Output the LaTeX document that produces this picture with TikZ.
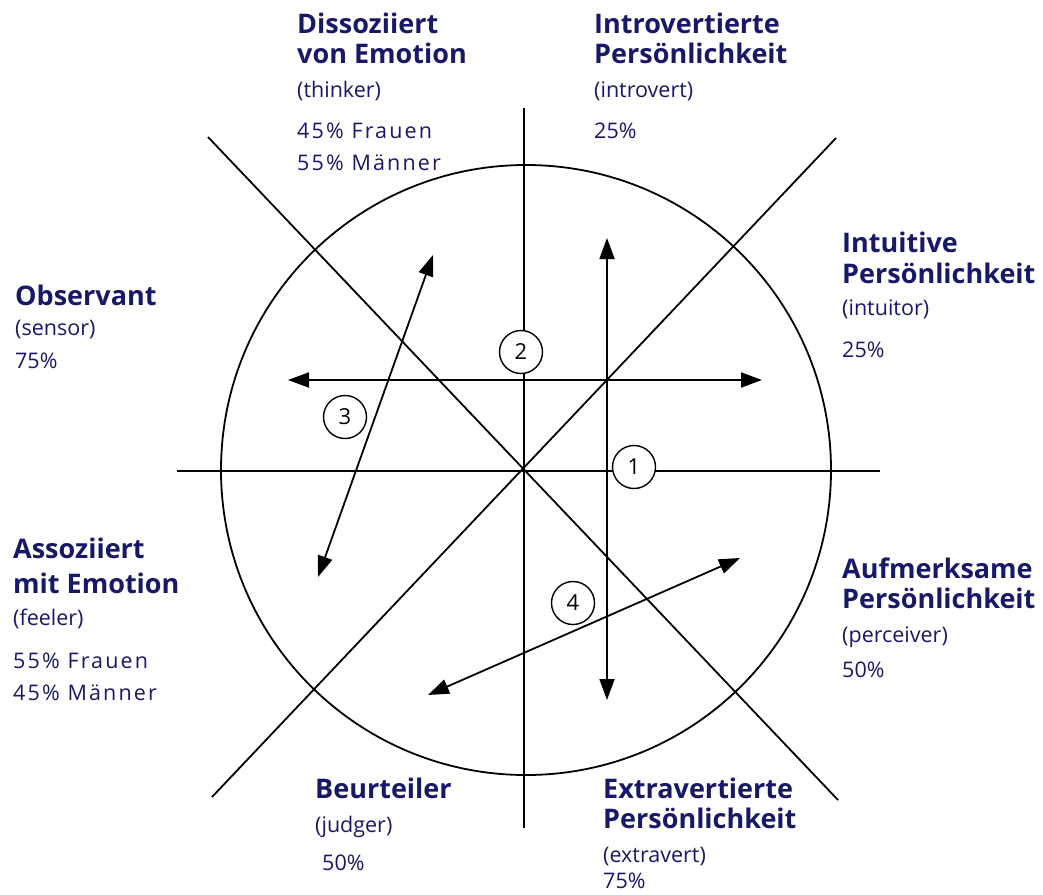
\documentclass[tikz,border=0pt]{standalone}
\usepackage{fontspec}
\setmainfont{Open Sans}
\usetikzlibrary{arrows.meta}
\definecolor{navy}{RGB}{24,24,104}
\tikzset{
  ln/.style={line width=1.8pt, black},
  dbl/.style={ln, {Triangle[length=21pt,width=15pt]}-{Triangle[length=21pt,width=15pt]}},
  numc/.style={circle, draw, line width=1.4pt, fill=white, minimum size=43pt, inner sep=0pt, font=\fontsize{22}{22}\selectfont},
  ttl/.style={anchor=base west, inner sep=0pt, text=navy, font=\bfseries\fontsize{27}{27}\selectfont},
  txt/.style={anchor=base west, inner sep=0pt, text=navy, font=\fontsize{21.5}{21.5}\selectfont},
  wide/.style={txt, font=\fontsize{21.5}{21.5}\selectfont\addfontfeatures{LetterSpace=10}},
}
\begin{document}
\begin{tikzpicture}[x=1pt,y=-1pt]
\useasboundingbox (0,0) rectangle (1043,894);
% main axes
\coordinate (c) at (524,471);
\coordinate (vT) at (524,108);
\coordinate (vB) at (524,828);
\coordinate (hL) at (177,471);
\coordinate (hR) at (880,471);
\coordinate (d1a) at (208,137);
\coordinate (d1b) at (838,800);
\coordinate (d2a) at (836,138);
\coordinate (d2b) at (212,797);
\draw[ln] (526,470) circle (305);
\draw[ln] (vT) -- (vB);
\draw[ln] (hL) -- (hR);
\draw[ln] (d1a) -- (d1b);
\draw[ln] (d2a) -- (d2b);
% secondary axes
\coordinate (sT) at (607,238);
\coordinate (sB) at (607,700);
\coordinate (sL) at (288,380);
\coordinate (sR) at (762,380);
\draw[dbl] (sB) -- (sT);
\draw[dbl] (sL) -- (sR);
% diagonal arrows
\coordinate (a3a) at (433,255);
\coordinate (a3b) at (318,577);
\coordinate (a4a) at (740,558);
\coordinate (a4b) at (428,695);
\draw[dbl] (a3a) -- (a3b);
\draw[dbl] (a4a) -- (a4b);
% numbers
\node[numc] (n1) at (634,467) {1};
\node[numc] (n2) at (521,352) {2};
\node[numc] (n3) at (345,417) {3};
\node[numc] (n4) at (573,603) {4};
% labels: top left
\node[ttl] (t1a) at (297,33) {Dissoziiert};
\node[ttl] (t1b) at (297,63) {von Emotion};
\node[txt] (t1c) at (297,97) {(thinker)};
\node[wide] (t1d) at (297,138) {45\% Frauen};
\node[wide] (t1e) at (297,170) {55\% Männer};
% top right
\node[ttl] (t2a) at (594,33) {Introvertierte};
\node[ttl] (t2b) at (594,63) {Persönlichkeit};
\node[txt] (t2c) at (594,97) {(introvert)};
\node[txt] (t2d) at (594,138) {25\%};
% right upper
\node[ttl] (t3a) at (842,252) {Intuitive};
\node[ttl] (t3b) at (842,283) {Persönlichkeit};
\node[txt] (t3c) at (842,315) {(intuitor)};
\node[txt] (t3d) at (842,357) {25\%};
% left upper
\node[ttl] (t4a) at (15,305) {Observant};
\node[txt] (t4b) at (15,335) {(sensor)};
\node[txt] (t4c) at (15,368) {75\%};
% left lower
\node[ttl] (t5a) at (13,558) {Assoziiert};
\node[ttl] (t5b) at (13,593) {mit Emotion};
\node[txt] (t5c) at (13,625) {(feeler)};
\node[wide] (t5d) at (13,668) {55\% Frauen};
\node[wide] (t5e) at (13,700) {45\% Männer};
% right lower
\node[ttl] (t6a) at (842,578) {Aufmerksame};
\node[ttl] (t6b) at (842,608) {Persönlichkeit};
\node[txt] (t6c) at (842,642) {(perceiver)};
\node[txt] (t6d) at (842,677) {50\%};
% bottom left
\node[ttl] (t7a) at (315,798) {Beurteiler};
\node[txt] (t7b) at (315,832) {(judger)};
\node[txt] (t7c) at (322,870) {50\%};
% bottom right
\node[ttl] (t8a) at (603,798) {Extravertierte};
\node[ttl] (t8b) at (603,828) {Persönlichkeit};
\node[txt] (t8c) at (603,862) {(extravert)};
\node[txt] (t8d) at (603,888) {75\%};
\end{tikzpicture}
\end{document}
